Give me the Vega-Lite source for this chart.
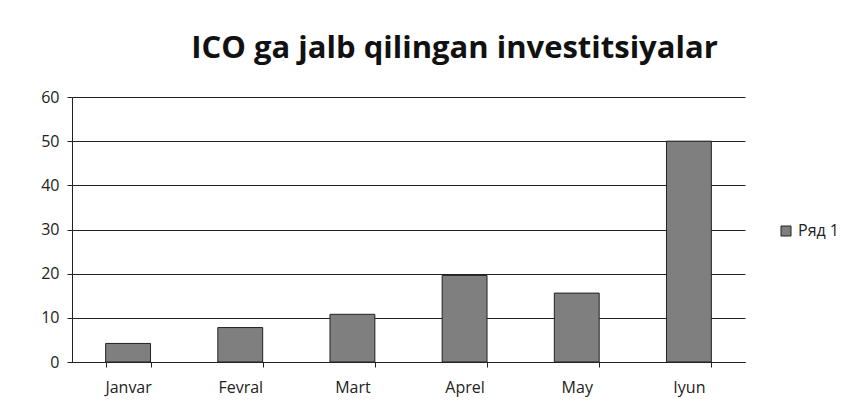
{
  "$schema": "https://vega.github.io/schema/vega-lite/v6.json",
  "width": 673,
  "height": 265,
  "autosize": {"type": "none"},
  "padding": {"left": 72, "top": 97, "right": 106, "bottom": 49},
  "background": "white",
  "title": {"text": "ICO ga jalb qilingan investitsiyalar", "font": "Open Sans", "fontSize": 31, "fontWeight": "bold", "color": "#111", "offset": 24, "dx": 46},
  "data": {"values": [
    {"month": "Janvar", "value": 4.2, "series": "Ряд 1"},
    {"month": "Fevral", "value": 7.8, "series": "Ряд 1"},
    {"month": "Mart", "value": 10.8, "series": "Ряд 1"},
    {"month": "Aprel", "value": 19.6, "series": "Ряд 1"},
    {"month": "May", "value": 15.6, "series": "Ряд 1"},
    {"month": "Iyun", "value": 50, "series": "Ряд 1"}
  ]},
  "mark": {"type": "bar", "stroke": "#222", "strokeWidth": 1},
  "encoding": {
    "x": {"field": "month", "type": "nominal", "sort": null, "title": null,
      "scale": {"paddingInner": 0.6, "paddingOuter": 0.3},
      "axis": {"labelAngle": 0, "labelFont": "Open Sans", "labelFontSize": 16, "labelColor": "#222", "domainColor": "#222", "tickColor": "#222", "ticks": true, "tickBand": "extent", "labelPadding": 12}},
    "y": {"field": "value", "type": "quantitative", "title": null,
      "scale": {"domain": [0, 60]},
      "axis": {"values": [0, 10, 20, 30, 40, 50, 60], "labelFont": "Open Sans", "labelFontSize": 16, "labelColor": "#222", "domainColor": "#222", "tickColor": "#222", "gridColor": "#222", "gridOpacity": 1, "labelPadding": 8}},
    "color": {"field": "series", "type": "nominal", "scale": {"range": ["#7f7f7f"]},
      "legend": {"title": null, "orient": "none", "legendX": 706, "legendY": 126, "symbolType": "square", "symbolStrokeColor": "#222", "symbolStrokeWidth": 1, "symbolSize": 100, "labelFont": "Open Sans", "labelFontSize": 16, "labelColor": "#222"}}
  },
  "config": {"view": {"stroke": null}, "axis": {"gridWidth": 1}}
}
